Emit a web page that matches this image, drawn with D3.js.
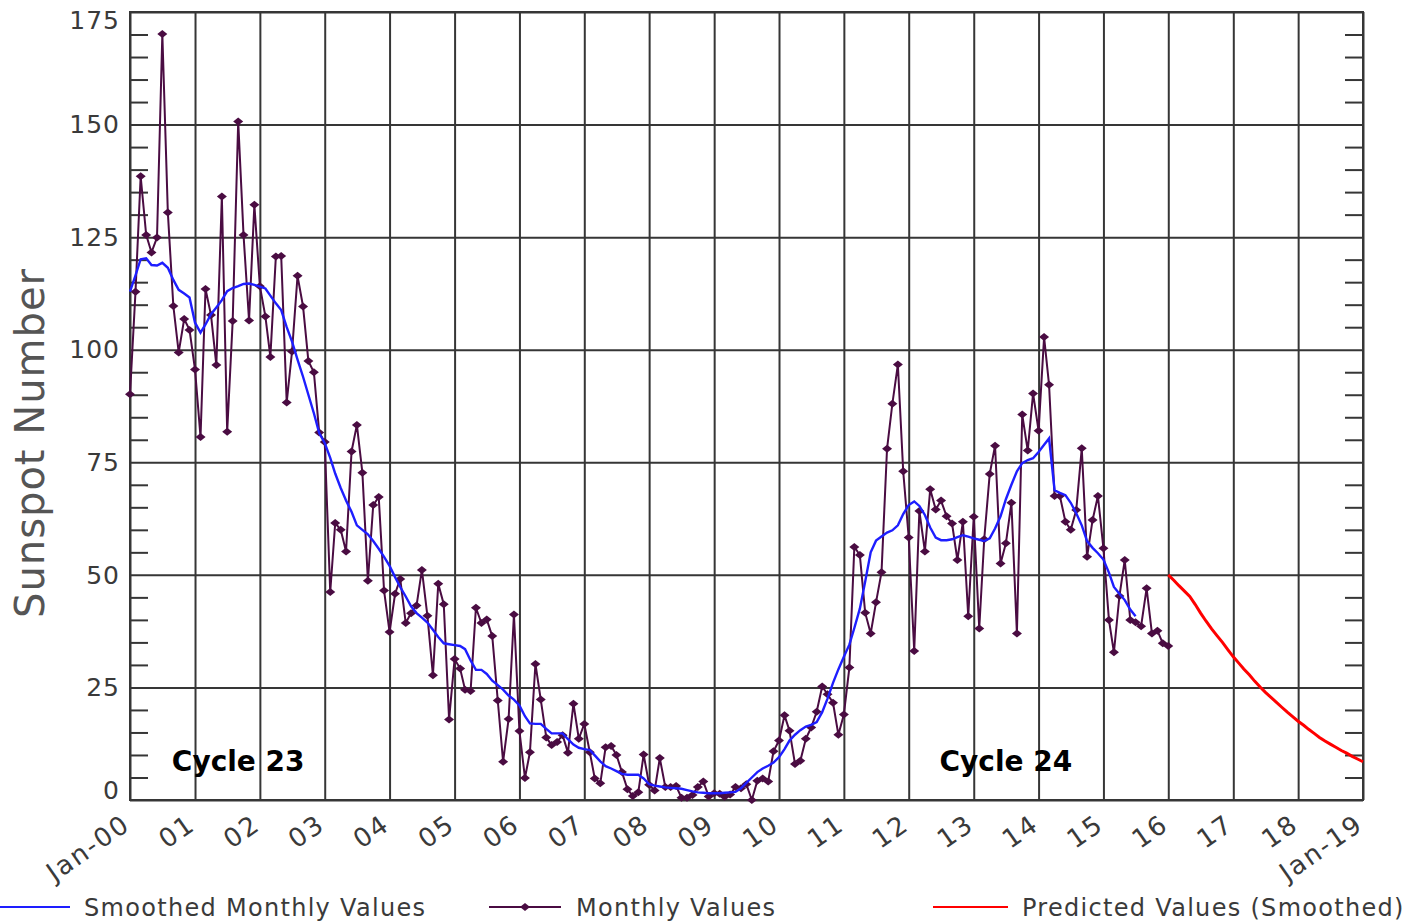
<!DOCTYPE html>
<html>
<head>
<meta charset="utf-8">
<script src="https://cdn.jsdelivr.net/npm/d3@7"></script>
<style>
  body { margin: 0; background: #fff; }
  svg { display: block; }
  text { font-family: "DejaVu Sans", sans-serif; }
</style>
</head>
<body>
<div id="chart"></div>
<script>
// monthly sunspot numbers, Jan 2000 .. Jan 2016
const monthlyValues = [
  90.1, 112.9, 138.5, 125.5, 121.6, 124.9, 170.1, 130.5, 109.7, 99.4, 106.8, 104.4,
  95.6, 80.6, 113.5, 107.7, 96.6, 134.0, 81.8, 106.4, 150.7, 125.5, 106.5, 132.2,
  114.1, 107.4, 98.4, 120.7, 120.8, 88.3, 99.6, 116.4, 109.6, 97.5, 95.0, 81.6,
  79.5, 46.2, 61.5, 60.0, 55.2, 77.4, 83.3, 72.7, 48.7, 65.5, 67.3, 46.5,
  37.3, 45.8, 49.1, 39.3, 41.5, 43.2, 51.1, 40.9, 27.7, 48.0, 43.5, 17.9,
  31.3, 29.2, 24.5, 24.2, 42.7, 39.3, 40.1, 36.4, 22.1, 8.5, 18.0, 41.2,
  15.3, 4.9, 10.6, 30.2, 22.3, 13.9, 12.2, 12.9, 14.4, 10.5, 21.4, 13.6,
  16.9, 10.6, 4.8, 3.7, 11.7, 12.0, 10.0, 6.2, 2.4, 0.9, 1.7, 10.1,
  3.4, 2.1, 9.3, 2.9, 2.9, 3.1, 0.5, 0.5, 1.1, 2.9, 4.1, 0.8,
  1.5, 1.4, 0.7, 1.2, 2.9, 2.6, 3.5, 0.0, 4.3, 4.8, 4.1, 10.8,
  13.2, 18.8, 15.4, 8.0, 8.7, 13.6, 16.1, 19.6, 25.2, 23.5, 21.6, 14.5,
  19.0, 29.4, 56.2, 54.4, 41.6, 37.0, 43.9, 50.6, 78.0, 88.0, 96.7, 73.0,
  58.3, 33.1, 64.2, 55.2, 69.0, 64.5, 66.5, 63.0, 61.4, 53.3, 61.8, 40.8,
  62.9, 38.1, 57.9, 72.4, 78.7, 52.5, 57.0, 66.0, 37.0, 85.6, 77.6, 90.3,
  82.0, 102.8, 92.2, 67.5, 67.5, 61.8, 60.0, 64.4, 78.1, 54.0, 62.2, 67.5,
  55.9, 40.0, 32.8, 45.3, 53.3, 40.0, 39.5, 38.6, 47.0, 37.0, 37.6, 34.8,
  34.2
];

// smoothed monthly values, Jan 2000 .. Jul 2015
const smoothedValues = [
  112.9, 116.5, 120.1, 120.3, 118.8, 118.7, 119.3, 118.2, 115.5, 113.3, 112.5, 111.6,
  106.0, 103.8, 105.6, 107.9, 109.4, 111.0, 113.0, 113.7, 114.1, 114.6, 114.7, 114.4,
  114.0, 113.6, 112.0, 110.3, 108.8, 105.0, 101.8, 97.8, 94.0, 90.0, 85.9, 81.5,
  79.3, 76.0, 72.5, 69.3, 66.5, 64.0, 61.0, 60.0, 59.0, 57.5, 55.8, 54.0,
  52.0, 49.5, 47.3, 45.2, 43.0, 41.5, 40.5, 39.4, 37.8, 36.2, 34.8, 34.6,
  34.4, 34.2, 33.5, 31.0, 28.9, 28.9, 28.0, 26.5, 25.5, 24.5, 23.2, 22.3,
  21.0, 18.6, 17.0, 16.9, 16.9, 15.8, 14.8, 14.8, 14.8, 13.5, 12.3, 11.6,
  11.3, 11.1, 9.9, 8.6, 7.5, 7.0, 6.4, 5.8, 5.6, 5.6, 5.6, 4.8,
  3.5, 3.2, 3.0, 2.8, 2.7, 2.6, 2.5, 2.2, 1.9, 1.7, 1.6, 1.5,
  1.5, 1.5, 1.6, 1.7, 1.8, 2.6, 3.8, 5.0, 6.2, 7.0, 7.6, 8.3,
  9.5, 11.3, 13.2, 14.5, 15.5, 16.3, 16.7, 17.3, 19.5, 22.5, 26.0, 29.0,
  31.8, 34.5, 38.2, 42.5, 48.5, 55.0, 57.6, 58.5, 59.4, 59.9, 61.0, 63.5,
  65.5, 66.3, 65.3, 63.3, 60.5, 58.3, 57.7, 57.7, 57.9, 58.4, 58.8, 58.5,
  58.1, 57.8, 57.5, 58.1, 60.3, 63.0, 66.8, 70.0, 73.0, 74.8, 75.5, 75.9,
  77.3, 78.9, 80.3, 68.8, 68.2, 67.7, 66.0, 63.7, 61.0, 57.5, 56.0, 54.8,
  53.4, 50.5, 47.3, 45.8, 44.4, 42.3, 40.8
];

// predicted smoothed values, Jan 2016 .. Jan 2019
const predictedValues = [
  50.0, 48.8, 47.6, 46.4, 45.2, 43.4, 41.5, 39.7, 38.0, 36.5, 35.0, 33.4,
  31.8, 30.4, 29.1, 27.8, 26.4, 25.1, 23.9, 22.8, 21.7, 20.6, 19.5, 18.5,
  17.5, 16.6, 15.7, 14.8, 13.9, 13.1, 12.4, 11.7, 11.0, 10.4, 9.7, 9.1,
  8.5
];

const yearLabels = ["Jan-00", "01", "02", "03", "04", "05", "06", "07", "08", "09",
  "10", "11", "12", "13", "14", "15", "16", "17", "18", "Jan-19"];
const yTicks = [0, 25, 50, 75, 100, 125, 150, 175];
const cycleLabels = [
  { text: "Cycle 23", date: new Date(2001, 8, 1), value: 6.4 },
  { text: "Cycle 24", date: new Date(2013, 6, 1), value: 6.4 }
];

const width = 1426, height = 922;
const plotLeft = 130, plotRight = 1363, plotTop = 12, plotBottom = 800;

const startMonthly = new Date(2000, 0, 1);
const startPredicted = new Date(2016, 0, 1);
const toSeries = (vals, start) => vals.map((v, i) => ({ date: d3.timeMonth.offset(start, i), value: v }));
const monthly = toSeries(monthlyValues, startMonthly);
const smoothed = toSeries(smoothedValues, startMonthly);
const predicted = toSeries(predictedValues, startPredicted);

const svg = d3.select("#chart").append("svg")
  .attr("width", width)
  .attr("height", height);

const x = d3.scaleTime()
  .domain([new Date(2000, 0, 1), new Date(2019, 0, 1)])
  .range([plotLeft, plotRight]);
const y = d3.scaleLinear().domain([0, 175]).range([plotBottom, plotTop]);

const gridColor = "#363636";
const textColor = "#3a3a3a";

// vertical grid (years)
const years = d3.range(2000, 2020).map(yr => new Date(yr, 0, 1));
svg.append("g")
  .attr("transform", `translate(0,${plotBottom})`)
  .call(d3.axisBottom(x).tickValues(years).tickSize(-(plotBottom - plotTop)).tickFormat(""))
  .call(g => g.select(".domain").remove())
  .call(g => g.selectAll("line").attr("stroke", gridColor).attr("stroke-width", 2));

// horizontal grid
svg.append("g")
  .attr("transform", `translate(${plotLeft},0)`)
  .call(d3.axisLeft(y).tickValues(yTicks).tickSize(-(plotRight - plotLeft)).tickFormat(""))
  .call(g => g.select(".domain").remove())
  .call(g => g.selectAll("line").attr("stroke", gridColor).attr("stroke-width", 2));

// minor ticks, inward on left and right
const minor = d3.range(5, 175, 5).filter(v => v % 25 !== 0);
svg.append("g")
  .attr("transform", `translate(${plotLeft},0)`)
  .call(d3.axisLeft(y).tickValues(minor).tickSize(-18).tickFormat(""))
  .call(g => g.select(".domain").remove())
  .call(g => g.selectAll("line").attr("stroke", gridColor).attr("stroke-width", 2));
svg.append("g")
  .attr("transform", `translate(${plotRight},0)`)
  .call(d3.axisRight(y).tickValues(minor).tickSize(-18).tickFormat(""))
  .call(g => g.select(".domain").remove())
  .call(g => g.selectAll("line").attr("stroke", gridColor).attr("stroke-width", 2));

// frame
svg.append("rect")
  .attr("x", plotLeft).attr("y", plotTop)
  .attr("width", plotRight - plotLeft).attr("height", plotBottom - plotTop)
  .attr("fill", "none").attr("stroke", gridColor).attr("stroke-width", 2);

// y labels (end labels kept inside the picture like the original)
svg.append("g")
  .selectAll("text")
  .data(yTicks)
  .join("text")
  .attr("x", plotLeft - 10)
  .attr("y", d => Math.min(Math.max(y(d), 20), 790))
  .attr("dy", "0.35em")
  .attr("text-anchor", "end")
  .attr("font-size", 25)
  .attr("letter-spacing", 1)
  .attr("fill", textColor)
  .text(d => d);

// x labels, rotated
svg.append("g")
  .selectAll("text")
  .data(years)
  .join("text")
  .attr("transform", d => `translate(${x(d) + 2},${plotBottom + 28}) rotate(-35)`)
  .attr("text-anchor", "end")
  .attr("font-size", 26)
  .attr("letter-spacing", 2)
  .attr("fill", textColor)
  .text((d, i) => yearLabels[i]);

// y title
svg.append("text")
  .attr("transform", `translate(44,${(plotTop + plotBottom) / 2 + 37}) rotate(-90)`)
  .attr("text-anchor", "middle")
  .attr("font-size", 40)
  .attr("letter-spacing", 1)
  .attr("fill", "#555")
  .text("Sunspot Number");

// monthly values
const line = d3.line().x(d => x(d.date)).y(d => y(d.value));
svg.append("path")
  .datum(monthly)
  .attr("d", line)
  .attr("fill", "none")
  .attr("stroke", "#4a0c42")
  .attr("stroke-width", 2);

const diamond = "M0,-4L5,0L0,4L-5,0Z";
svg.append("g")
  .selectAll("path")
  .data(monthly)
  .join("path")
  .attr("transform", d => `translate(${x(d.date)},${y(d.value)})`)
  .attr("d", diamond)
  .attr("fill", "#4a0c42");

// smoothed
svg.append("path")
  .datum(smoothed)
  .attr("d", line)
  .attr("fill", "none")
  .attr("stroke", "#1e1eff")
  .attr("stroke-width", 2.4);

// predicted
svg.append("path")
  .datum(predicted)
  .attr("d", line)
  .attr("fill", "none")
  .attr("stroke", "#ff0000")
  .attr("stroke-width", 3);

// cycle labels
svg.append("g")
  .selectAll("text")
  .data(cycleLabels)
  .join("text")
  .attr("x", d => x(d.date))
  .attr("y", d => y(d.value))
  .attr("text-anchor", "middle")
  .attr("font-family", "'Liberation Sans', Arial, sans-serif")
  .attr("font-weight", "bold")
  .attr("font-size", 28)
  .attr("fill", "#000")
  .text(d => d.text);

// legend
const legendY = 907;
const legend = [
  { label: "Smoothed Monthly Values", color: "#1e1eff", x0: 0, x1: 70, tx: 84, marker: false },
  { label: "Monthly Values", color: "#4a0c42", x0: 489, x1: 561, tx: 576, marker: true },
  { label: "Predicted Values (Smoothed)", color: "#ff0000", x0: 933, x1: 1008, tx: 1022, marker: false }
];
const lg = svg.append("g").selectAll("g").data(legend).join("g");
lg.append("line")
  .attr("x1", d => d.x0).attr("x2", d => d.x1)
  .attr("y1", legendY).attr("y2", legendY)
  .attr("stroke", d => d.color).attr("stroke-width", 2);
lg.filter(d => d.marker).append("path")
  .attr("transform", d => `translate(${(d.x0 + d.x1) / 2},${legendY})`)
  .attr("d", diamond)
  .attr("fill", d => d.color);
lg.append("text")
  .attr("x", d => d.tx)
  .attr("y", legendY + 9)
  .attr("font-size", 24)
  .attr("letter-spacing", 1.3)
  .attr("fill", textColor)
  .text(d => d.label);
</script>
</body>
</html>
